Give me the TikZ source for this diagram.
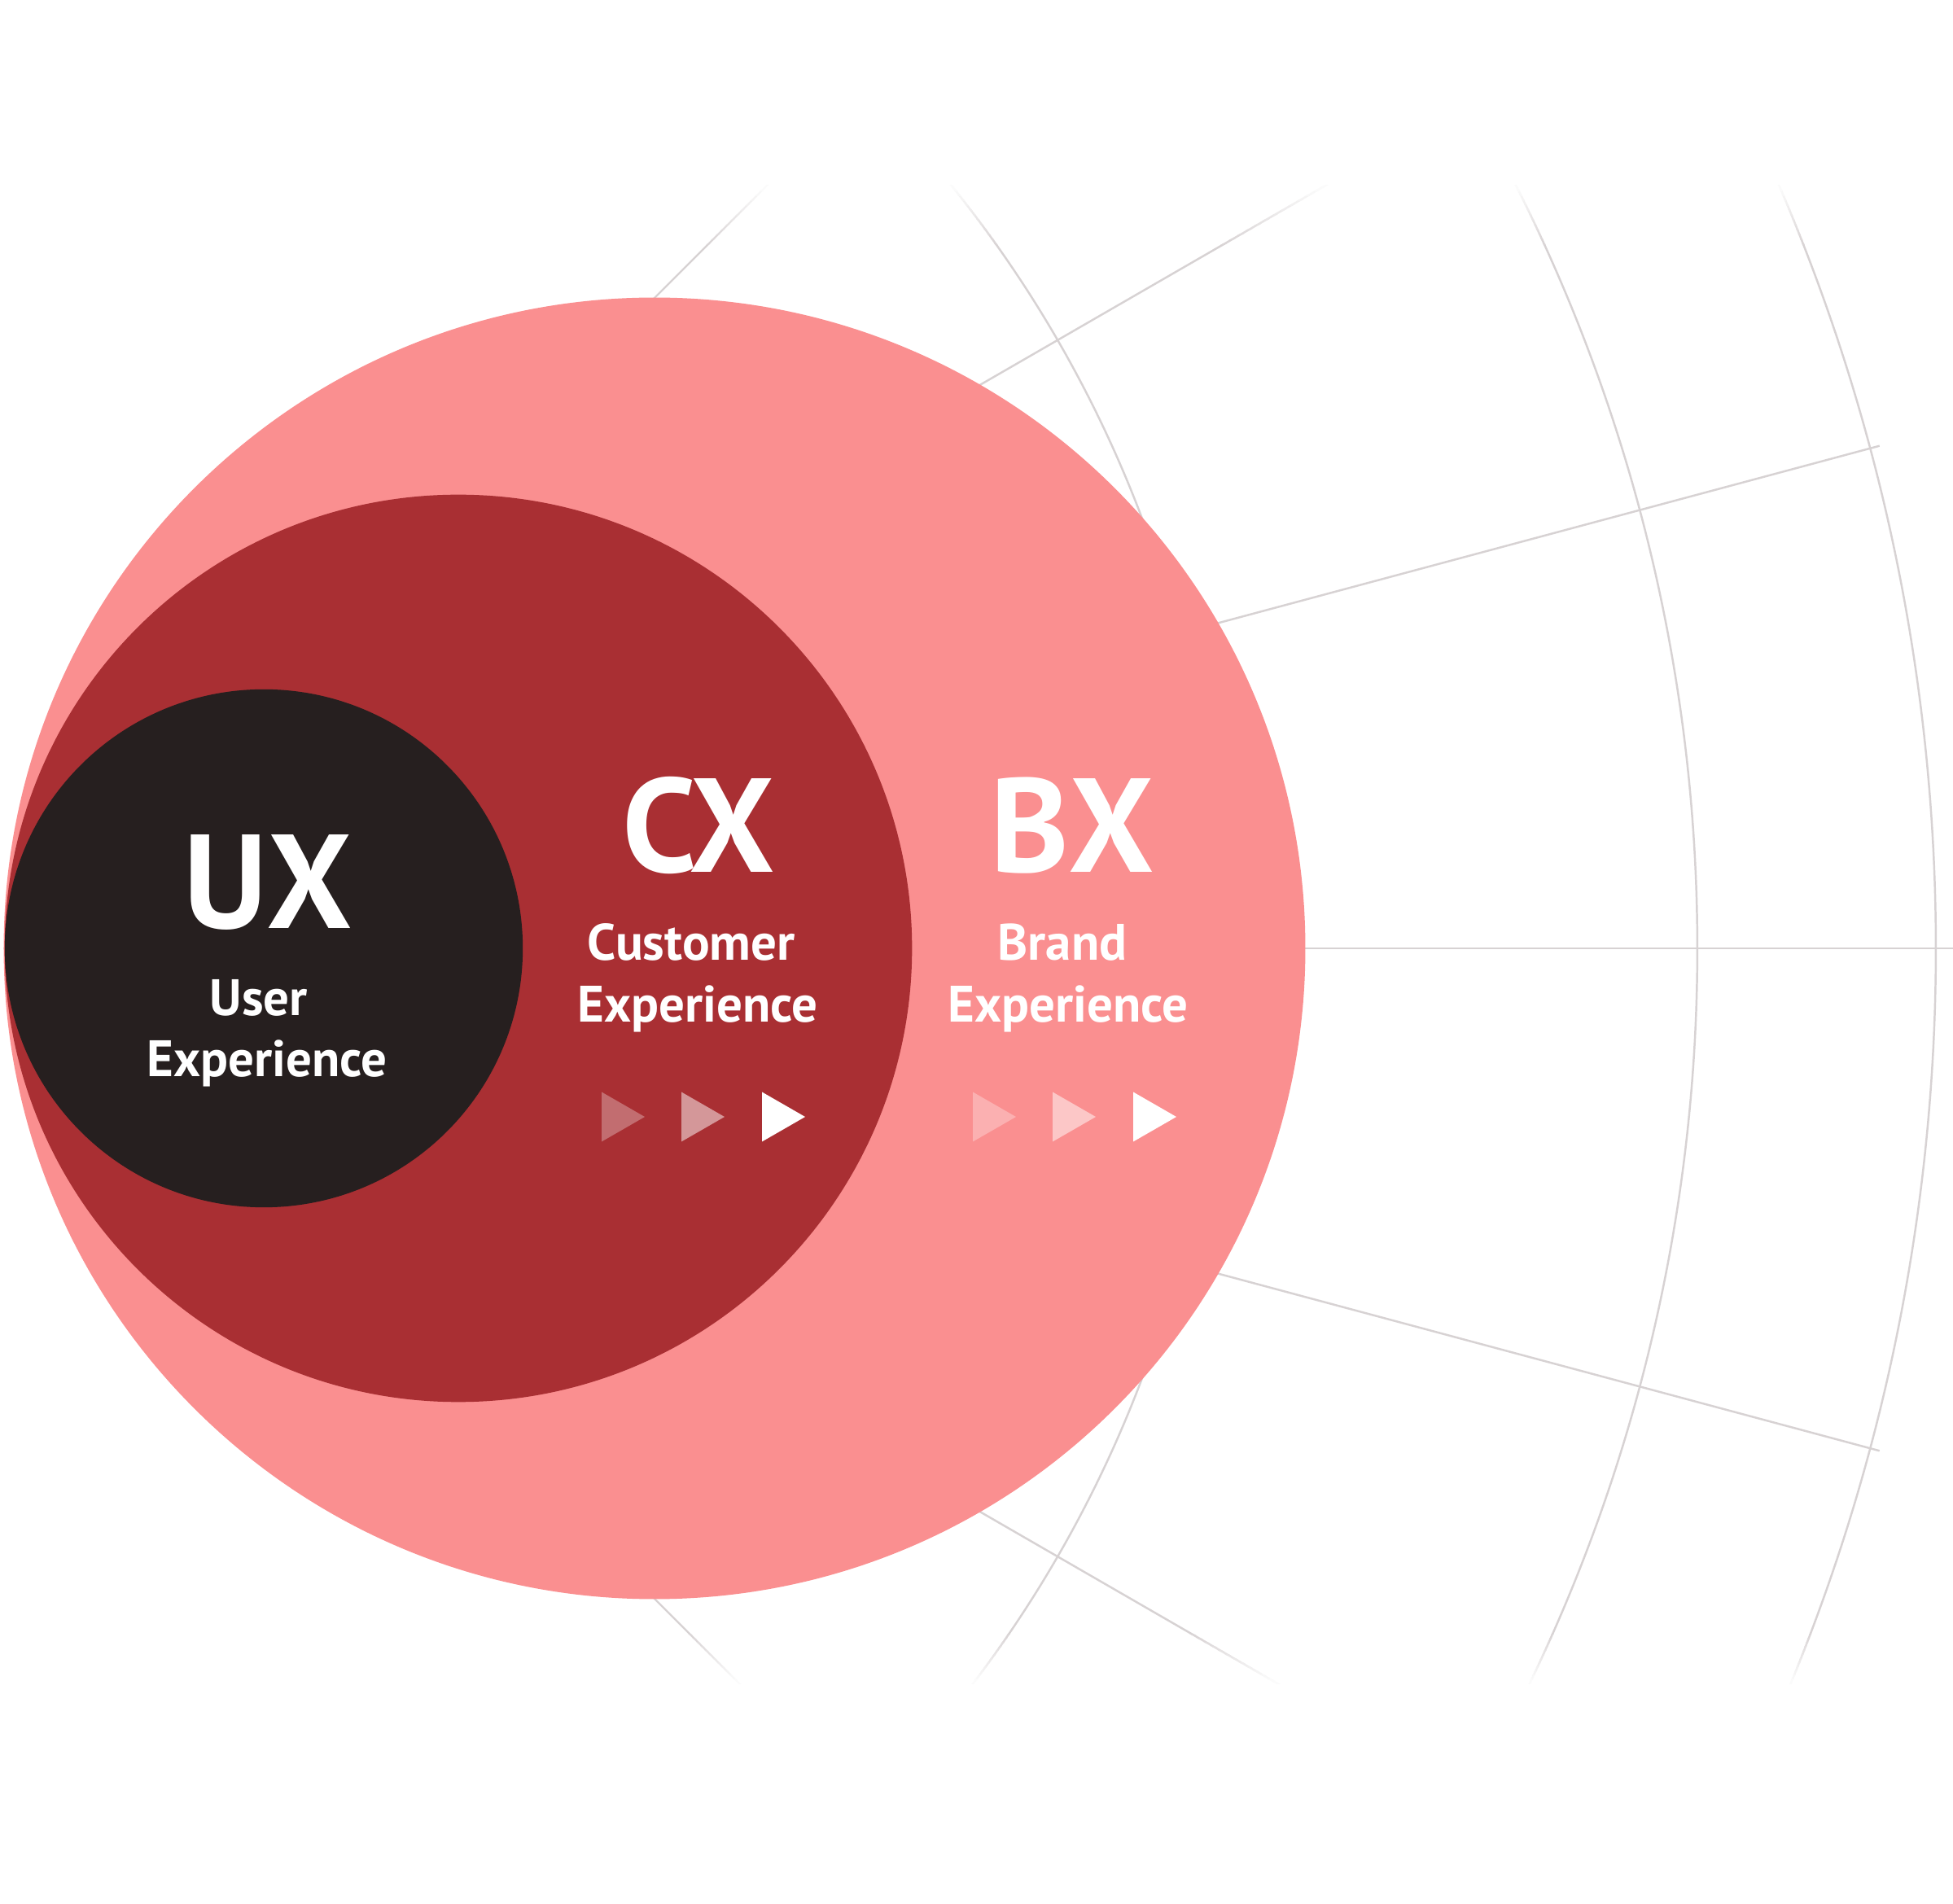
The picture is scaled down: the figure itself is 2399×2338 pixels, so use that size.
\documentclass[tikz,border=0pt]{standalone}
\usepackage{fontspec}
\setmainfont{PT Sans}

\definecolor{bxpink}{HTML}{FA8F90}
\definecolor{cxred}{HTML}{A92F33}
\definecolor{uxblack}{HTML}{261F1F}
\definecolor{gridgray}{RGB}{215,210,211}

% radial lines and arcs of the grid, in one colour
\newcommand{\polargrid}[1]{%
  \foreach \a/\len in {-45/1494,-30/2385,-15/2385,0/2394,15/2385,30/2385,45/1494}
    \draw[gridline, draw=#1] (O) -- ++(\a:\len);
  \draw[gridline, draw=#1] (O) ++(-45:1494) arc[start angle=-45, end angle=45, radius=1494];
  \foreach \r in {2080,2373}
    \draw[gridline, draw=#1] (O) ++(-40:\r) arc[start angle=-40, end angle=40, radius=\r];
}

\begin{document}
\begin{tikzpicture}[x=0.01cm,y=0.01cm]
      \tikzstyle{gridline}=[line width=0.7pt]
      \tikzstyle{ring}=[circle, inner sep=0pt, outer sep=0pt]
      \tikzstyle{bigtag}=[text=white, anchor=base, inner sep=0pt, font=\fontsize{46.7}{50}\selectfont\bfseries]
      \tikzstyle{subtag}=[text=white, anchor=base, inner sep=0pt, font=\fontsize{17.9}{21.3}\selectfont\bfseries]

      \fill[white] (0,0) rectangle (2399,2338);
      \useasboundingbox (0,0) rectangle (2399,2338);

      \coordinate (O) at (5,1173);
      % grid: full colour in the middle band
      \begin{scope}
        \clip (-10,330) rectangle (2410,2038);
        \polargrid{gridgray}
      \end{scope}
      % grid fading out towards top and bottom
      \foreach \i in {1,...,12} {
        \pgfmathtruncatemacro\mixr{215+40*\i/13}
        \pgfmathtruncatemacro\mixg{210+45*\i/13}
        \pgfmathtruncatemacro\mixb{211+44*\i/13}
        \definecolor{fadegray}{RGB}{\mixr,\mixg,\mixb}
        \begin{scope}
          \clip (-10,{2037+(\i-1)*6}) rectangle (2410,{2038+\i*6});
          \polargrid{fadegray}
        \end{scope}
        \begin{scope}
          \clip (-10,{330-\i*5}) rectangle (2410,{331-(\i-1)*5});
          \polargrid{fadegray}
        \end{scope}
      }

      \foreach \name/\col/\x/\d in {bx/bxpink/804/15.98cm, cx/cxred/563/11.14cm, ux/uxblack/324/6.36cm}
        \node[ring, fill=\col, minimum size=\d] (\name) at (\x,1173) {};

      \foreach \name/\txt/\x/\y in {ux/UX/329/1197, cx/CX/858/1266, bx/BX/1317/1266}
        \node[bigtag] (\name-tag) at (\x,\y) {\txt};
      \foreach \name/\txt/\x/\y in {ux-a/User/318/1090, ux-b/Experience/328/1015, cx-a/Customer/849/1158, cx-b/Experience/857/1082, bx-a/Brand/1305/1158, bx-b/Experience/1312/1082}
        \node[subtag] (\name) at (\x,\y) {\txt};

      \foreach \x/\op in {739/0.3, 837/0.5, 936/1, 1195/0.3, 1293/0.5, 1392/1}
        \fill[white, opacity=\op] (\x,996.5) -- ++(53,-30.5) -- ++(-53,-30.5) -- cycle;
\end{tikzpicture}
\end{document}
